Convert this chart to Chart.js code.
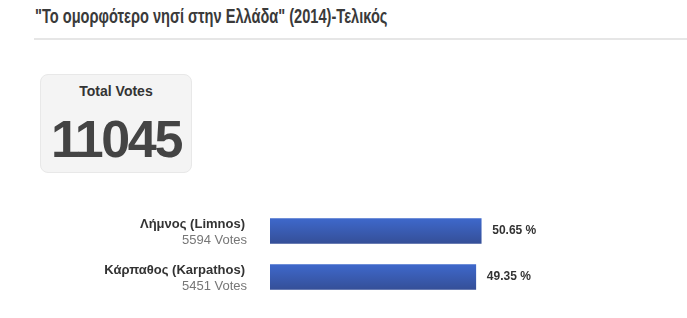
<!DOCTYPE html>
<html>
<head>
<meta charset="utf-8">
<script src="https://cdn.jsdelivr.net/npm/chart.js@4/dist/chart.umd.min.js"></script>
<style>
  body { margin: 0; background: #fff; font-family: "Liberation Sans", Arial, sans-serif; width: 687px; height: 318px; overflow: hidden; position: relative; }
  #title { position: absolute; left: 35px; top: 5px; font-weight: bold; font-size: 20px; color: #3a3a3a; white-space: nowrap; transform: scaleX(0.73); transform-origin: 0 0; }
  #rule { position: absolute; left: 34px; top: 38px; width: 653px; height: 2px; background: #e6e6e6; }
  #box { position: absolute; left: 40px; top: 74px; width: 150px; height: 97px; background: #f4f4f4; border: 1px solid #e8e8e8; border-radius: 8px; text-align: center; }
  #box .lbl { position: absolute; left: 0; right: 0; top: 8px; font-size: 14px; font-weight: bold; color: #333; }
  #box .num { position: absolute; left: 0; right: 0; top: 34px; font-size: 52px; font-weight: bold; color: #444; letter-spacing: -2.3px; line-height: 60px; }
  #wrap { position: absolute; left: 0; top: 208px; width: 687px; height: 92px; }
</style>
</head>
<body>
<div id="title">"Το ομορφότερο νησί στην Ελλάδα" (2014)-Τελικός</div>
<div id="rule"></div>
<div id="box"><div class="lbl">Total Votes</div><div class="num" id="total"></div></div>
<div id="wrap"><canvas id="chart"></canvas></div>
<script>
var islands = ["Λήμνος (Limnos)", "Κάρπαθος (Karpathos)"];
var votes = [5594, 5451];
var percents = [50.65, 49.35];
var totalVotes = 11045;

document.getElementById("total").textContent = totalVotes;

// names + vote counts left of the bars, percentages right of them
var labelPlugin = {
  id: "labels",
  afterDatasetsDraw: function(chart) {
    var ctx = chart.ctx;
    var meta = chart.getDatasetMeta(0);
    ctx.save();
    ctx.textBaseline = "middle";
    meta.data.forEach(function(bar, i) {
      var y = bar.y;
      ctx.textAlign = "right";
      ctx.font = "bold 13px 'Liberation Sans', Arial, sans-serif";
      ctx.fillStyle = "#333";
      ctx.fillText(islands[i], 245, y - 7);
      ctx.font = "13px 'Liberation Sans', Arial, sans-serif";
      ctx.fillStyle = "#777";
      ctx.fillText(votes[i] + " Votes", 247, y + 9);
      ctx.textAlign = "left";
      ctx.font = "bold 12px 'Liberation Sans', Arial, sans-serif";
      ctx.fillStyle = "#333";
      ctx.fillText(percents[i].toFixed(2) + " %", bar.x + 11, y);
    });
    ctx.restore();
  }
};

function barGradient(context) {
  var chart = context.chart;
  var yScale = chart.scales.y;
  if (!chart.chartArea || !yScale) return "#3a5cb5";
  var cy = yScale.getPixelForValue(context.dataIndex);
  if (!isFinite(cy)) return "#3a5cb5";
  var g = chart.ctx.createLinearGradient(0, cy - 12.5, 0, cy + 12.5);
  g.addColorStop(0, "#3e68cb");
  g.addColorStop(1, "#354f98");
  return g;
}

var chart = new Chart(document.getElementById("chart"), {
  type: "bar",
  data: {
    labels: islands,
    datasets: [{
      data: percents,
      backgroundColor: barGradient,
      borderWidth: 0,
      barThickness: 25
    }]
  },
  options: {
    indexAxis: "y",
    responsive: true,
    maintainAspectRatio: false,
    animation: false,
    layout: { padding: 0 },
    plugins: { legend: { display: false }, tooltip: { enabled: false } },
    scales: {
      x: { display: false, min: 0, max: 100 },
      y: {
        grid: { display: false },
        border: { display: false },
        ticks: { display: false },
        afterFit: function(scale) { scale.width = 270; }
      }
    }
  },
  plugins: [labelPlugin]
});
</script>
</body>
</html>
